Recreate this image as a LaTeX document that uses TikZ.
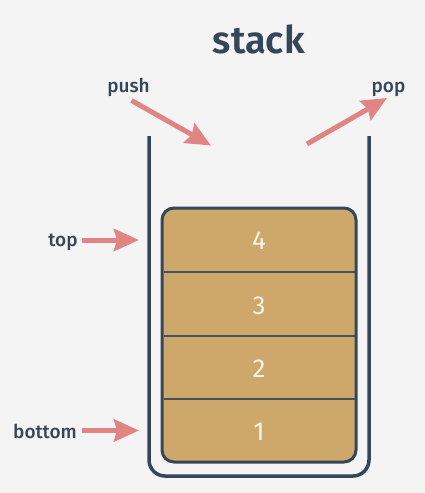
\documentclass[tikz,border=0pt]{standalone}
\usepackage{fontspec}
\setmainfont{Fira Sans}
\newfontfamily\semifont{Fira Sans SemiBold}
\newfontfamily\medfont{Fira Sans Medium}
\usetikzlibrary{arrows.meta}
\definecolor{bg}{RGB}{244,244,244}
\definecolor{ink}{RGB}{52,71,89}
\definecolor{divider}{RGB}{70,80,90}
\definecolor{gold}{RGB}{205,168,106}
\definecolor{pinkarrow}{RGB}{224,132,132}
\definecolor{cream}{RGB}{248,243,232}
\tikzset{
  title/.style={text=ink, font=\semifont\fontsize{38}{40}\selectfont, anchor=base, inner sep=0pt},
  lbl/.style={text=ink, font=\medfont\fontsize{19}{21}\selectfont, anchor=base, inner sep=0pt},
  num/.style={text=cream, font=\fontsize{26}{28}\selectfont, anchor=base, inner sep=0pt},
  pointer/.style={draw=pinkarrow, line width=5pt, -{Stealth[length=25pt,width=22pt,inset=3pt]}},
  container/.style={draw=ink, line width=3.5pt, rounded corners=16pt},
  stackbox/.style={draw=ink, fill=gold, line width=3pt, rounded corners=12pt},
  sep/.style={draw=divider, line width=2pt}
}
\begin{document}
\begin{tikzpicture}[x=1pt,y=-1pt]
\fill[bg] (0,0) rectangle (425,493);
\useasboundingbox (0,0) rectangle (425,493);
% title
\node[title] (ttl) at (258.7,53) {stack};
% container
\draw[container] (149,136) -- (149,476) -- (369,476) -- (369,136);
% stack box
\draw[stackbox] (162,208) rectangle (356,462);
\draw[sep] (163.5,272) -- (354.5,272);
\draw[sep] (163.5,336) -- (354.5,336);
\draw[sep] (163.5,399) -- (354.5,399);
\node[num] (n4) at (259,249) {4};
\node[num] (n3) at (259,314) {3};
\node[num] (n2) at (259,377) {2};
\node[num] (n1) at (259,440) {1};
% labels
\node[lbl] (push) at (128.5,92.5) {push};
\node[lbl] (pop) at (388.5,92.5) {pop};
\node[lbl] (top) at (63,246) {top};
\node[lbl] (bottom) at (45,438.5) {bottom};
% arrow ends
\coordinate (pushS) at (131.5,100.5);
\coordinate (pushT) at (211,145.5);
\coordinate (popS) at (307,144);
\coordinate (popT) at (387,98);
\coordinate (topS) at (82,240);
\coordinate (topT) at (139,240);
\coordinate (botS) at (82,430.5);
\coordinate (botT) at (139,430.5);
\draw[pointer] (pushS) -- (pushT);
\draw[pointer] (popS) -- (popT);
\draw[pointer] (topS) -- (topT);
\draw[pointer] (botS) -- (botT);
\end{tikzpicture}
\end{document}
